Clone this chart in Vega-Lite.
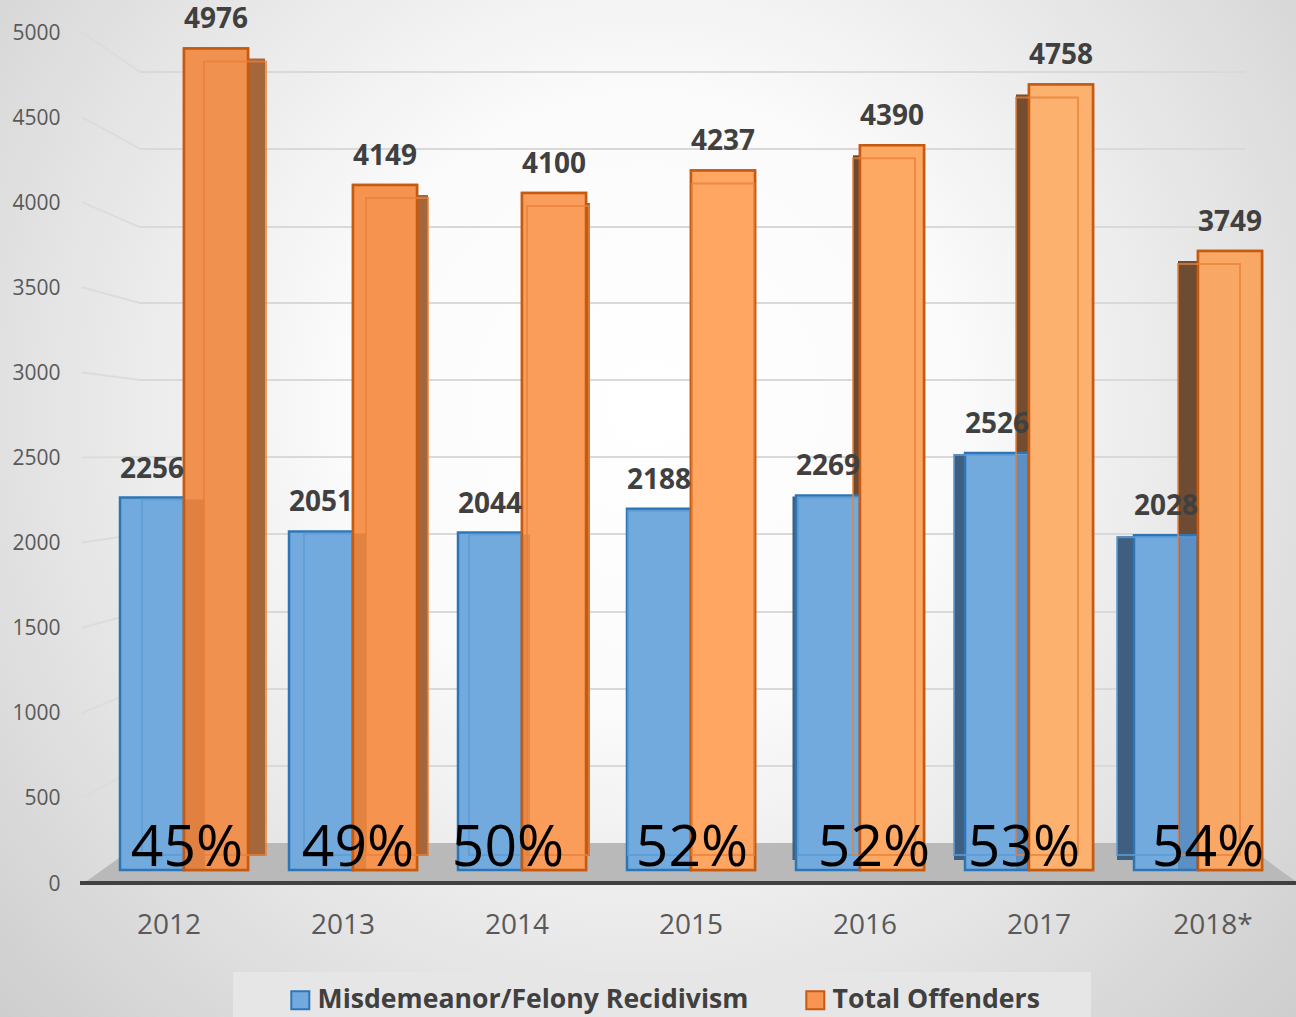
{
"$schema":"https://vega.github.io/schema/vega-lite/v6.json",
"width":1296,"height":1017,"autosize":{"type":"none"},"padding":0,
"background":"#ffffff",
"config":{"view":{"stroke":null},"font":"Open Sans"},
"datasets":{
"bars":[
{"year":"2012","series":"Misdemeanor/Felony Recidivism","value":2256},{"year":"2013","series":"Misdemeanor/Felony Recidivism","value":2051},{"year":"2014","series":"Misdemeanor/Felony Recidivism","value":2044},{"year":"2015","series":"Misdemeanor/Felony Recidivism","value":2188},{"year":"2016","series":"Misdemeanor/Felony Recidivism","value":2269},{"year":"2017","series":"Misdemeanor/Felony Recidivism","value":2526},{"year":"2018*","series":"Misdemeanor/Felony Recidivism","value":2028},
{"year":"2012","series":"Total Offenders","value":4976},{"year":"2013","series":"Total Offenders","value":4149},{"year":"2014","series":"Total Offenders","value":4100},{"year":"2015","series":"Total Offenders","value":4237},{"year":"2016","series":"Total Offenders","value":4390},{"year":"2017","series":"Total Offenders","value":4758},{"year":"2018*","series":"Total Offenders","value":3749}],
"years":[
{"year":"2012","yr":2012,"recid":2256,"total":4976,"pct":"45%"},{"year":"2013","yr":2013,"recid":2051,"total":4149,"pct":"49%"},{"year":"2014","yr":2014,"recid":2044,"total":4100,"pct":"50%"},{"year":"2015","yr":2015,"recid":2188,"total":4237,"pct":"52%"},{"year":"2016","yr":2016,"recid":2269,"total":4390,"pct":"52%"},{"year":"2017","yr":2017,"recid":2526,"total":4758,"pct":"53%"},{"year":"2018*","yr":2018,"recid":2028,"total":3749,"pct":"54%"}],
"grid":[{"level":5000,"wall":4765},{"level":4500,"wall":4313},{"level":4000,"wall":3854},{"level":3500,"wall":3408},{"level":3000,"wall":2955},{"level":2500,"wall":2503},{"level":2000,"wall":2051},{"level":1500,"wall":1592},{"level":1000,"wall":1140},{"level":500,"wall":687}],
"floor":[{"p":0,"level":0},{"p":1,"level":235},{"p":2,"level":235},{"p":3,"level":0}]
},
"resolve":{"scale":{"x":"independent","y":"independent","xOffset":"independent","color":"independent","stroke":"independent","fill":"independent","size":"independent"}},
"layer":[
{"data":{"values":[{"a":1}]},"mark":{"type":"rect","fill":{"gradient":"radial","x1":0.5,"y1":0.42,"r1":0,"x2":0.5,"y2":0.42,"r2":0.78,"stops":[{"offset":0,"color":"#ffffff"},{"offset":0.3,"color":"#fbfbfb"},{"offset":0.6,"color":"#e4e4e4"},{"offset":1,"color":"#c4c4c4"}]}},"encoding":{}},
{"data":{"name":"grid"},"mark":{"type":"rule","color":"#d9d9d9","strokeWidth":2},"encoding":{
"x":{"datum":0,"type":"quantitative","scale":{"domain":[0,1],"range":[140,1245]},"axis":null},"x2":{"datum":1},
"y":{"field":"wall","type":"quantitative","scale":{"domain":[0,5000],"range":[883,32]},"axis":null}}},
{"data":{"name":"grid"},"mark":{"type":"rule","color":"#dcdcdc","strokeWidth":2},"encoding":{
"x":{"datum":0,"type":"quantitative","scale":{"domain":[0,1],"range":[82,140]},"axis":null},"x2":{"datum":1},
"y":{"field":"level","type":"quantitative","scale":{"domain":[0,5000],"range":[883,32]},"axis":null},"y2":{"field":"wall"}}},
{"data":{"name":"floor"},"mark":{"type":"area","color":"#b9b9b9"},"encoding":{
"x":{"field":"p","type":"quantitative","scale":{"domain":[0,1,2,3],"range":[84,140,1243,1298]},"axis":null},
"y":{"field":"level","type":"quantitative","scale":{"domain":[0,5000],"range":[883,32]},"axis":null},"y2":{"datum":0}}},
{"data":{"name":"years"},"mark":{"type":"rule","color":"#404040","strokeWidth":4},"encoding":{
"x":{"datum":0,"type":"quantitative","scale":{"domain":[0,1],"range":[80,1296]},"axis":null},"x2":{"datum":1},
"y":{"datum":0,"type":"quantitative","scale":{"domain":[0,5000],"range":[883,32]},
"axis":{"orient":"left","offset":-60,"zindex":1,"format":"d","values":[0,500,1000,1500,2000,2500,3000,3500,4000,4500,5000],"title":null,"domain":false,"ticks":false,"grid":false,"labelPadding":0,"labelOffset":1,"labelFontSize":21,"labelColor":"#595959","labelFont":"Open Sans"}}}},
{"data":{"name":"years"},"mark":{"type":"text","opacity":0},"encoding":{
"x":{"field":"year","type":"nominal","sort":null,"scale":{"type":"band","range":[82,1300],"padding":0},
"axis":{"orient":"bottom","offset":-106,"zindex":1,"title":null,"domain":false,"ticks":false,"labelAngle":0,"labelPadding":0,"labelFontSize":28,"labelColor":"#595959","labelFont":"Open Sans"}},
"text":{"field":"year"}}},
{"data":{"name":"years"},"mark":{"type":"rule","yOffset":10,"y2Offset":-14},"encoding":{
"x":{"field":"yr","type":"quantitative","scale":{"domain":[2012,2013,2014,2015,2016,2017,2018],"range":[256.5,422.5,588.5,700,856.5,1022,1188]},"axis":null},
"size":{"field":"yr","type":"quantitative","legend":null,"scale":{"type":"linear","domain":[2012,2013,2014,2015,2016,2017,2018],"range":[17,11,3,0,7,12,20]}},
"stroke":{"field":"yr","type":"quantitative","legend":null,"scale":{"domain":[2012,2013,2014,2015,2016,2017,2018],"range":["#a5663c","#a5663c","#a5663c","#a5663c","#6d4a30","#744c2f","#6e4c33"]}},
"y":{"field":"total","type":"quantitative","scale":{"domain":[0,5000],"range":[870,44.5]},"axis":null},"y2":{"datum":0}}},
{"data":{"name":"years"},"mark":{"type":"rule","yOffset":1,"y2Offset":-10},"encoding":{
"x":{"field":"yr","type":"quantitative","scale":{"domain":[2012,2013,2014,2015,2016,2017,2018],"range":[795,795,795,795,795,960,1125.5]},"axis":null},
"size":{"field":"yr","type":"quantitative","legend":null,"scale":{"type":"linear","domain":[2012,2013,2014,2015,2016,2017,2018],"range":[0,0,0,0,5,12,17]}},
"stroke":{"value":"#3f5f80"},
"y":{"field":"recid","type":"quantitative","scale":{"domain":[0,5000],"range":[870,44.5]},"axis":null},"y2":{"datum":0}}},
{"data":{"name":"bars"},"mark":{"type":"bar","strokeWidth":2.5},"encoding":{
"x":{"field":"year","type":"nominal","sort":null,"scale":{"type":"band","range":[99.5,1282.5],"paddingInner":0.2426,"paddingOuter":0.1213},"axis":null},
"xOffset":{"field":"series","type":"nominal","scale":{"domain":["Misdemeanor/Felony Recidivism","Total Offenders"]}},
"y":{"field":"value","type":"quantitative","scale":{"domain":[0,5000],"range":[870,44.5]},"axis":null},"y2":{"datum":0},
"fill":{"field":"series","type":"nominal","scale":{"domain":["Misdemeanor/Felony Recidivism","Total Offenders"],"range":["#73aade","#f79650"]},
"legend":{"orient":"none","legendX":287,"legendY":987,"direction":"horizontal","title":null,"symbolType":"square","symbolSize":324,"symbolStrokeWidth":2,"labelFontSize":26.6,"labelFontWeight":"bold","labelColor":"#404040","labelFont":"Open Sans","labelLimit":700,"columnPadding":53,"labelOffset":4}},
"stroke":{"field":"series","type":"nominal","scale":{"domain":["Misdemeanor/Felony Recidivism","Total Offenders"],"range":["#2e75b6","#c55a11"]}}}},
{"data":{"name":"years"},"mark":{"type":"bar","orient":"vertical","fillOpacity":0,"stroke":"#5b9bd5","strokeWidth":2,"strokeOpacity":0.8,"size":62,"yOffset":2,"y2Offset":-15},"encoding":{
"x":{"field":"yr","type":"quantitative","scale":{"domain":[2012,2013,2014,2015,2016,2017,2018],"range":[173,335,500,659,829,985,1148],"padding":0},"axis":null},
"y":{"field":"recid","type":"quantitative","scale":{"domain":[0,5000],"range":[870,44.5]},"axis":null},"y2":{"datum":0}}},
{"data":{"name":"years"},"mark":{"type":"bar","orient":"vertical","stroke":"#c55a11","strokeWidth":2.5},"encoding":{
"x":{"field":"year","type":"nominal","sort":null,"scale":{"type":"band","range":[99.5,1282.5],"paddingInner":0.2426,"paddingOuter":0.1213},"axis":null},
"xOffset":{"datum":"Total Offenders","scale":{"domain":["Misdemeanor/Felony Recidivism","Total Offenders"]}},
"y":{"field":"total","type":"quantitative","scale":{"domain":[0,5000],"range":[870,44.5]},"axis":null},"y2":{"datum":0},
"fill":{"field":"yr","type":"quantitative","legend":null,"scale":{"domain":[2012,2013,2014,2015,2016,2017,2018],"range":["#f1914f","#f5934f","#fa9d5a","#fea662","#fda963","#fcb26e","#f9a765"]}}}},
{"data":{"name":"years"},"mark":{"type":"rule","opacity":0.28,"yOffset":2,"y2Offset":-1},"encoding":{
"x":{"field":"yr","type":"quantitative","scale":{"domain":[2012,2013,2014,2015,2016,2017,2018],"range":[194.5,359.5,526,691,860,1022,1188]},"axis":null},
"size":{"field":"yr","type":"quantitative","legend":null,"scale":{"type":"linear","domain":[2012,2013,2014,2015,2016,2017,2018],"range":[21,13,8,0,0,12,20]}},
"stroke":{"field":"yr","type":"quantitative","legend":null,"scale":{"domain":[2012,2013,2014,2015,2016,2017,2018],"range":["#b45a20","#b45a20","#b45a20","#b45a20","#1f4f85","#1f4f85","#1f4f85"]}},
"y":{"field":"recid","type":"quantitative","scale":{"domain":[0,5000],"range":[870,44.5]},"axis":null},"y2":{"datum":0}}},
{"data":{"name":"years"},"mark":{"type":"bar","orient":"vertical","fillOpacity":0,"stroke":"#e8803a","strokeWidth":2,"strokeOpacity":0.75,"size":62,"yOffset":13,"y2Offset":-15},"encoding":{
"x":{"field":"yr","type":"quantitative","scale":{"domain":[2012,2013,2014,2015,2016,2017,2018],"range":[235,397,558,723,884,1047,1209],"padding":0},"axis":null},
"y":{"field":"total","type":"quantitative","scale":{"domain":[0,5000],"range":[870,44.5]},"axis":null},"y2":{"datum":0}}},
{"data":{"values":[{"a":1}]},"mark":{"type":"rect","color":"#e6e6e6"},"encoding":{
"x":{"datum":0,"type":"quantitative","scale":{"domain":[0,1],"range":[233,1091]},"axis":null},"x2":{"datum":1},
"y":{"datum":0,"type":"quantitative","scale":{"domain":[0,1],"range":[1017,972]},"axis":null},"y2":{"datum":1}}},
{"data":{"name":"bars"},"mark":{"type":"text","baseline":"middle","fontSize":28,"fontWeight":"bold","font":"Open Sans","color":"#404040","dy":-28},"encoding":{
"x":{"field":"year","type":"nominal","sort":null,"scale":{"type":"band","range":[99.5,1282.5],"paddingInner":0.2426,"paddingOuter":0.1213},"axis":null},
"xOffset":{"field":"series","type":"nominal","scale":{"domain":["Misdemeanor/Felony Recidivism","Total Offenders"]}},
"y":{"field":"value","type":"quantitative","scale":{"domain":[0,5000],"range":[870,44.5]},"axis":null},
"text":{"field":"value","type":"quantitative","format":"d"}}},
{"data":{"name":"years"},"mark":{"type":"text","baseline":"middle","fontSize":57,"font":"Open Sans","color":"#000000"},"encoding":{
"x":{"field":"yr","type":"quantitative","scale":{"domain":[2012,2013,2014,2015,2016,2017,2018],"range":[187,358,508,692,874,1024,1208]},"axis":null},
"y":{"datum":127,"type":"quantitative","scale":{"domain":[0,5000],"range":[870,44.5]},"axis":null},
"text":{"field":"pct"}}}
]
}
